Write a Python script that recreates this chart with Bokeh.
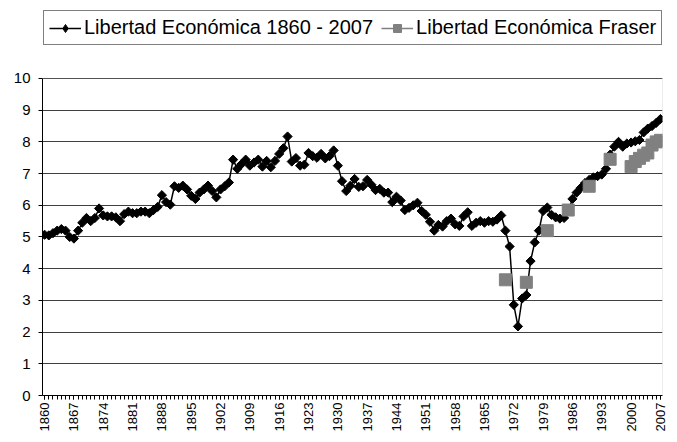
import numpy as np
from bokeh.plotting import figure
from bokeh.models import Range1d, FixedTicker, Legend, LegendItem, ColumnDataSource, BoxAnnotation
from bokeh.embed import file_html
from bokeh.resources import INLINE

# ---- data ----
years = list(range(1860, 2008))
libertad = [
    5.07, 5.05, 5.12, 5.20, 5.25, 5.20, 5.00, 4.95, 5.20, 5.45,   # 1860-1869
    5.60, 5.50, 5.60, 5.90, 5.68, 5.65, 5.65, 5.62, 5.50, 5.72,   # 1870-1879
    5.80, 5.75, 5.75, 5.80, 5.80, 5.75, 5.85, 5.95, 6.32, 6.10,   # 1880-1889
    6.02, 6.60, 6.55, 6.62, 6.50, 6.30, 6.20, 6.40, 6.50, 6.62,   # 1890-1899
    6.45, 6.25, 6.50, 6.60, 6.72, 7.44, 7.15, 7.30, 7.44, 7.25,   # 1900-1909
    7.35, 7.44, 7.22, 7.40, 7.20, 7.40, 7.62, 7.80, 8.17, 7.38,   # 1910-1919
    7.49, 7.25, 7.28, 7.65, 7.55, 7.50, 7.62, 7.48, 7.55, 7.73,   # 1920-1929
    7.25, 6.76, 6.45, 6.62, 6.83, 6.58, 6.60, 6.80, 6.65, 6.48,   # 1930-1939
    6.52, 6.40, 6.40, 6.10, 6.27, 6.15, 5.85, 5.92, 6.00, 6.08,   # 1940-1949
    5.82, 5.70, 5.48, 5.20, 5.38, 5.33, 5.50, 5.58, 5.40, 5.35,   # 1950-1959
    5.65, 5.78, 5.35, 5.45, 5.50, 5.45, 5.50, 5.48, 5.55, 5.68,   # 1960-1969
    5.20, 4.70, 2.86, 2.18, 3.06, 3.17, 4.24, 4.83, 5.20, 5.82,   # 1970-1979
    5.93, 5.70, 5.62, 5.58, 5.60, 5.82, 6.20, 6.40, 6.55, 6.70,   # 1980-1989
    6.80, 6.88, 6.92, 6.97, 7.15, 7.60, 7.85, 8.00, 7.85, 7.95,   # 1990-1999
    7.98, 8.02, 8.06, 8.30, 8.42, 8.50, 8.60, 8.72,               # 2000-2007
]
fraser_years = [1970, 1975, 1980, 1985, 1990, 1995, 2000, 2001, 2002, 2003, 2004, 2005, 2006, 2007]
fraser = [3.65, 3.57, 5.20, 5.85, 6.60, 7.45, 7.22, 7.38, 7.48, 7.58, 7.65, 7.90, 8.00, 8.05]
x_tick_years = list(range(1860, 2008, 7))
y_ticks = list(range(0, 11))
label_main = "Libertad Económica 1860 - 2007"
label_fraser = "Libertad Económica Fraser"

FONT = "Liberation Sans"
Y_MIN, Y_MAX = 0, 10

# the frame reaches the top of the figure; the area above y=10 holds the legend
x_range = Range1d(1859.5, 2007.5)
y_range = Range1d(Y_MIN, 12.46)

p = figure(width=669, height=434, output_backend="svg", toolbar_location=None,
           x_range=x_range, y_range=y_range,
           min_border_left=42, min_border_right=7, min_border_top=0, min_border_bottom=36)
p.background_fill_color = "white"
p.border_fill_color = "white"
p.outline_line_color = None

# plot-area border (grey) around the 0-10 region
p.add_layout(BoxAnnotation(left=x_range.start, right=x_range.end, bottom=Y_MIN, top=Y_MAX,
                           fill_alpha=0, line_color="#808080", line_width=1, level="underlay"))

p.xgrid.visible = False
p.ygrid.ticker = FixedTicker(ticks=y_ticks)
p.ygrid.grid_line_color = "#404040"
p.ygrid.grid_line_width = 1

# x axis
xa = p.xaxis[0]
xa.ticker = FixedTicker(ticks=x_tick_years, minor_ticks=years)
xa.major_label_orientation = np.pi / 2
xa.major_label_text_font = FONT
xa.major_label_text_font_size = "13px"
xa.major_label_text_color = "black"
xa.major_label_standoff = 3
xa.major_tick_out = 4
xa.major_tick_in = 0
xa.minor_tick_out = 4
xa.minor_tick_in = 0
xa.axis_line_color = "black"
xa.major_tick_line_color = "black"
xa.minor_tick_line_color = "black"

# y axis
ya = p.yaxis[0]
ya.ticker = FixedTicker(ticks=y_ticks)
ya.bounds = (Y_MIN, Y_MAX)
ya.major_label_text_font = FONT
ya.major_label_text_font_size = "15px"
ya.major_label_text_color = "black"
ya.major_label_standoff = 8
ya.major_tick_out = 4
ya.major_tick_in = 0
ya.minor_tick_line_color = None
ya.axis_line_color = "black"
ya.major_tick_line_color = "black"

src_main = ColumnDataSource(dict(x=years, y=libertad))
src_fraser = ColumnDataSource(dict(x=fraser_years, y=fraser))
# legend-only source: no drawable points on the chart
src_legend = ColumnDataSource(dict(x=fraser_years, y=[np.nan] * len(fraser_years)))

l1 = p.line("x", "y", source=src_main, line_color="black", line_width=1.5)
s1 = p.scatter("x", "y", source=src_main, marker="square", angle=np.pi / 4, size=6.5,
               fill_color="black", line_color="black")
s1_leg = p.scatter("x", "y", source=src_legend, marker="diamond", size=10,
                   fill_color="black", line_color="black")
# Fraser series: markers only on the chart, line shown in the legend
l2 = p.line("x", "y", source=src_legend, line_color="#808080", line_width=1.5)
s2 = p.scatter("x", "y", source=src_fraser, marker="square", size=12,
               fill_color="#808080", line_color="#808080")

legend = Legend(items=[LegendItem(label=label_main, renderers=[l1, s1_leg]),
                       LegendItem(label=label_fraser, renderers=[l2, s2])],
                orientation="horizontal", location=(1, 350))
legend.label_text_font = FONT
legend.label_text_font_size = "20px"
legend.label_text_color = "black"
legend.border_line_color = "black"
legend.border_line_width = 1
legend.background_fill_color = "white"
legend.background_fill_alpha = 1
legend.padding = 5
legend.spacing = 8
legend.glyph_width = 32
legend.label_standoff = 3
legend.margin = 0
p.add_layout(legend, "center")

open("out.html", "w").write(file_html(p, INLINE))
